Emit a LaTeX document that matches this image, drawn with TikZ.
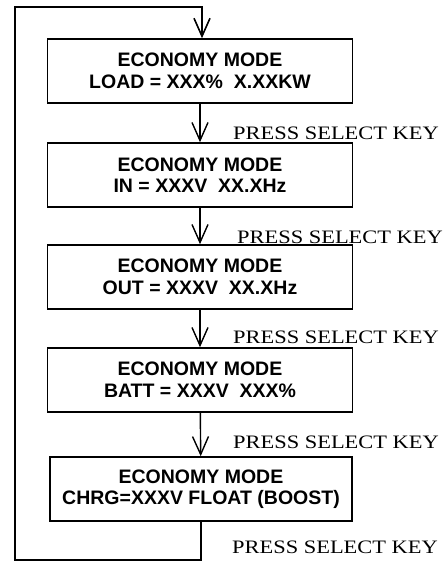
\documentclass[tikz,border=0pt]{standalone}
\usepackage{fontspec}
\setmainfont{Liberation Serif}
\setsansfont{Liberation Sans}
\usepackage{tikz}
\usetikzlibrary{arrows.meta,positioning}

\begin{document}
\begin{tikzpicture}[
x=1pt,y=-1pt,
modebox/.style={draw,line width=1.6pt,minimum width=305pt,minimum height=64pt,
  inner sep=0pt,align=center,font=\sffamily\bfseries\fontsize{19.5}{21.5}\selectfont},
keylabel/.style={anchor=base west,inner sep=0pt,font=\fontsize{19}{21}\selectfont},
oneway/.style={->,line width=1.4pt,>={Straight Barb[length=18pt,width=16pt]}},
loopline/.style={oneway,line width=1.6pt}]
    \useasboundingbox (0,0) rectangle (445,563);

    % Display screens
    \node[modebox] (load) at (200,71) {ECONOMY MODE\\LOAD = XXX\%~~X.XXKW};
    \node[modebox] (in) at (200,175) {ECONOMY MODE\\IN = XXXV~~XX.XHz};
    \node[modebox] (out) at (200,277) {ECONOMY MODE\\OUT = XXXV~~XX.XHz};
    \node[modebox] (batt) at (200,380) {ECONOMY MODE\\BATT = XXXV~~XXX\%};
    \node[modebox,minimum width=302pt] (chrg) at (201,489) {ECONOMY MODE\\CHRG=XXXV FLOAT (BOOST)};

    % Key presses
    \node[keylabel] (key1) at (233,139) {\scalebox{1.18}[1]{PRESS SELECT KEY}};
    \node[keylabel] (key2) at (237,243) {\scalebox{1.18}[1]{PRESS SELECT KEY}};
    \node[keylabel] (key3) at (233,343) {\scalebox{1.18}[1]{PRESS SELECT KEY}};
    \node[keylabel] (key4) at (233,448) {\scalebox{1.18}[1]{PRESS SELECT KEY}};
    \node[keylabel] (key5) at (232,553) {\scalebox{1.18}[1]{PRESS SELECT KEY}};

    \draw[oneway] (load) -- (in);
    \draw[oneway] (in) -- (out);
    \draw[oneway] (out) -- (batt);
    \draw[oneway] (batt) -- (chrg);

    % Back to the first screen
    \coordinate (lowleft) at (15,560);
    \coordinate (topleft) at (15,7);
    \draw[loopline] (chrg.south) |- (lowleft) -- (topleft) -| ([xshift=2pt]load.north);

\end{tikzpicture}
\end{document}
